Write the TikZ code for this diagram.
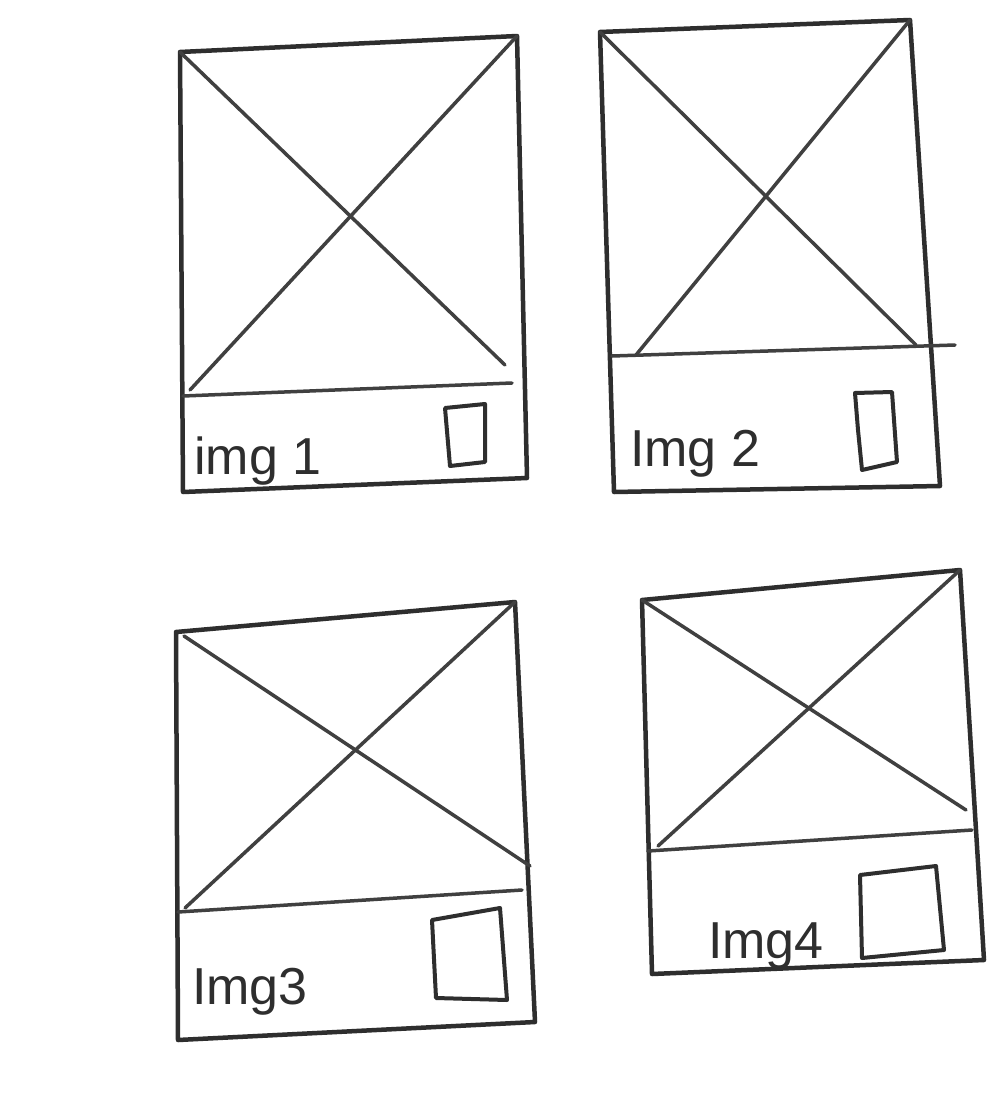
\documentclass[tikz,border=0pt]{standalone}
\usepackage{fontspec}
\setmainfont{Liberation Sans}
\begin{document}
\begin{tikzpicture}[x=1pt,y=-1pt,
  ink/.style={draw=black!82,line width=4.5pt,line cap=round,line join=round},
  thin/.style={draw=black!75,line width=3.5pt,line cap=round},
  lbl/.style={font=\fontsize{52}{52}\selectfont,text=black!82,inner sep=0pt,anchor=base west}]
\useasboundingbox[fill=white] (0,0) rectangle (1008,1097);
% ---------- card 1
\coordinate (a1) at (180,52); \coordinate (b1) at (517,36);
\coordinate (c1) at (527,478); \coordinate (d1) at (183,492);
\coordinate (l1) at (183,396); \coordinate (r1) at (512,383);
\draw[ink] (a1) -- (b1) -- (c1) -- (d1) -- cycle;
\draw[thin] (l1) -- (r1);
\draw[thin] (a1) -- (505,365);
\draw[thin] (190,390) -- (b1);
\node[lbl] (t1) at (194,474) {img 1};
\draw[ink,line width=4pt] (445,408) -- (485,404) -- (485,462) -- (450,466) -- cycle;
% ---------- card 2
\coordinate (a2) at (600,32); \coordinate (b2) at (910,20);
\coordinate (c2) at (940,486); \coordinate (d2) at (614,492);
\coordinate (l2) at (612,356); \coordinate (r2) at (955,345);
\draw[ink] (a2) -- (b2) -- (c2) -- (d2) -- cycle;
\draw[thin] (l2) -- (r2);
\draw[thin] (a2) -- (916,345);
\draw[thin] (636,355) -- (b2);
\node[lbl] (t2) at (630,466) {Img 2};
\draw[ink,line width=4pt] (855,393) -- (892,392) -- (897,462) -- (862,470) -- (858,430) -- cycle;
% ---------- card 3
\coordinate (a3) at (176,632); \coordinate (b3) at (515,602);
\coordinate (c3) at (535,1022); \coordinate (d3) at (178,1040);
\coordinate (l3) at (178,912); \coordinate (r3) at (522,890);
\draw[ink] (a3) -- (b3) -- (c3) -- (d3) -- cycle;
\draw[thin] (l3) -- (r3);
\draw[thin] (184,636) -- (530,866);
\draw[thin] (185,908) -- (b3);
\node[lbl] (t3) at (192,1004) {Img3};
\draw[ink,line width=4pt] (432,920) -- (500,908) -- (507,1000) -- (436,998) -- cycle;
% ---------- card 4
\coordinate (a4) at (642,600); \coordinate (b4) at (960,570);
\coordinate (c4) at (984,960); \coordinate (d4) at (652,974);
\coordinate (l4) at (648,851); \coordinate (r4) at (972,830);
\draw[ink] (a4) -- (b4) -- (c4) -- (d4) -- cycle;
\draw[thin] (l4) -- (r4);
\draw[thin] (a4) -- (966,810);
\draw[thin] (658,846) -- (b4);
\node[lbl] (t4) at (708,958) {Img4};
\draw[ink,line width=4pt] (860,875) -- (936,866) -- (944,950) -- (862,958) -- cycle;
\end{tikzpicture}
\end{document}
